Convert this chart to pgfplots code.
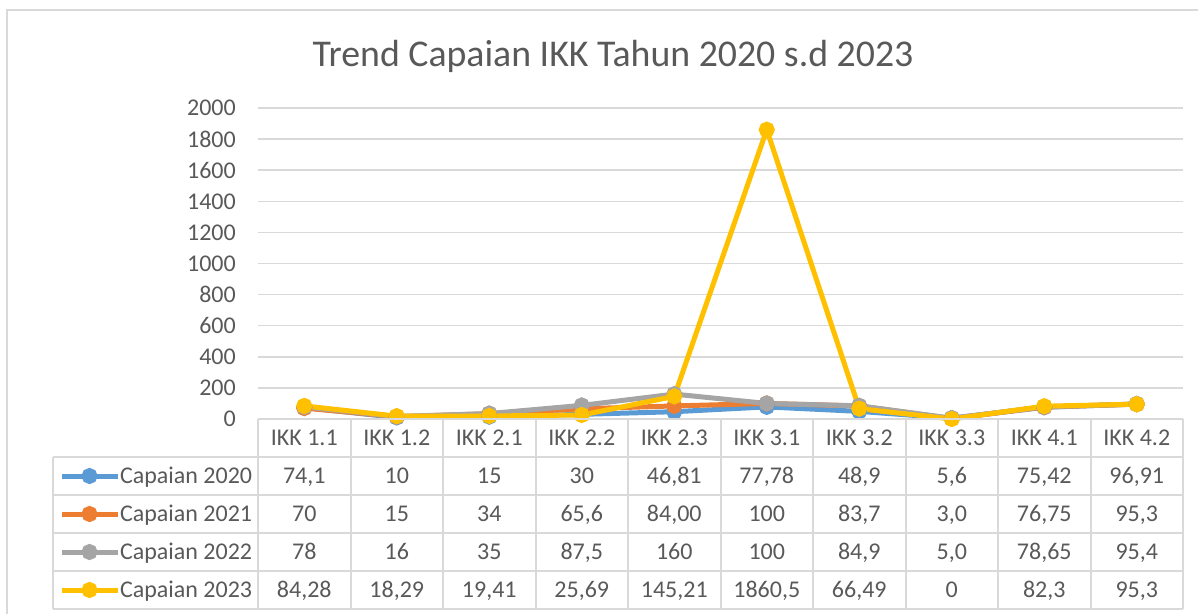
\documentclass[border=0pt]{standalone}
\usepackage{fontspec}
\setmainfont{Carlito}
\usepackage{pgfplots}
\pgfplotsset{compat=1.18}
\definecolor{c2020}{HTML}{5B9BD5}
\definecolor{c2021}{HTML}{ED7D31}
\definecolor{c2022}{HTML}{A5A5A5}
\definecolor{c2023}{HTML}{FFC000}
\definecolor{gridc}{HTML}{D9D9D9}
\definecolor{txt}{HTML}{595959}
\newcommand{\tf}{\fontsize{24bp}{28bp}\selectfont}
\begin{document}
\begin{tikzpicture}
\useasboundingbox (0,0) rectangle (1198bp,614bp);
\begin{scope}
\clip (0,0) rectangle (1198bp,614bp);
\draw[gridc, line width=1.5bp] (7bp,-10bp) -- (7bp,604bp) -- (1210bp,604bp);
\end{scope}
\node[anchor=base, text=txt, font=\fontsize{37.8bp}{42bp}\selectfont] at (613bp,547bp) {Trend Capaian IKK Tahun 2020 s.d 2023};
\begin{axis}[
  at={(258bp,195bp)}, anchor=south west,
  width=925bp, height=311bp, scale only axis,
  xmin=-0.5, xmax=9.5, ymin=0, ymax=2000,
  ytick={0,200,...,2000},
  xtick={0,...,9},
  xticklabels={IKK 1.1,IKK 1.2,IKK 2.1,IKK 2.2,IKK 2.3,IKK 3.1,IKK 3.2,IKK 3.3,IKK 4.1,IKK 4.2},
  axis line style={draw=none},
  major tick length=0pt,
  ymajorgrids, grid style={gridc, line width=1.5bp},
  /pgf/number format/assume math mode=true,
  /pgf/number format/1000 sep={},
  yticklabel style={font=\tf, text=txt, anchor=east, inner sep=0pt, xshift=-22bp},
  xticklabel style={font=\tf, text=txt, anchor=base, inner sep=0pt, yshift=-27bp},
  clip=false,
  legend cell align=left,
  legend image code/.code={\draw[mark repeat=2,mark phase=2,#1] plot coordinates {(0bp,0bp) (28bp,0bp) (56bp,0bp)};},
  legend style={at={(axis description cs:-0.2151,-0.1222)}, anchor=north west,
    draw=none, fill=none, inner sep=0pt, outer sep=0pt, row sep=0pt, column sep=0bp,
    font=\tf, text=txt,
    nodes={inner sep=0pt, outer sep=0pt, text height=26.5bp, text depth=11.5bp}},
  every axis plot/.append style={line width=5bp, mark=*, mark size=5.5bp, mark options={solid}},
]
\addplot[color=c2020] coordinates {(0,74.1) (1,10) (2,15) (3,30) (4,46.81) (5,77.78) (6,48.9) (7,5.6) (8,75.42) (9,96.91)};
\addlegendentry{Capaian 2020}
\addplot[color=c2021] coordinates {(0,70) (1,15) (2,34) (3,65.6) (4,84.00) (5,100) (6,83.7) (7,3.0) (8,76.75) (9,95.3)};
\addlegendentry{Capaian 2021}
\addplot[color=c2022] coordinates {(0,78) (1,16) (2,35) (3,87.5) (4,160) (5,100) (6,84.9) (7,5.0) (8,78.65) (9,95.4)};
\addlegendentry{Capaian 2022}
\addplot[color=c2023] coordinates {(0,84.28) (1,18.29) (2,19.41) (3,25.69) (4,145.21) (5,1860.5) (6,66.49) (7,0) (8,82.3) (9,95.3)};
\addlegendentry{Capaian 2023}
\end{axis}
\begin{scope}[x=1bp, y=-1bp, shift={(0bp,614bp)}]
  \draw[gridc, line width=2bp] (258,419) -- (1183,419);
  \foreach \yy in {457,495,533,571,609} \draw[gridc, line width=2bp] (53,\yy) -- (1183,\yy);
  \draw[gridc, line width=2bp] (53,457) -- (53,609);
  \foreach \k in {0,...,10} \draw[gridc, line width=2bp] ({258+92.5*\k},419) -- ({258+92.5*\k},609);
  \foreach \v [count=\i from 0] in {{74,1},{10},{15},{30},{46,81},{77,78},{48,9},{5,6},{75,42},{96,91}}
    \node[anchor=base, text=txt, font=\tf, inner sep=0pt] at ({258+92.5*(\i+0.5)},484) {\v};
  \foreach \v [count=\i from 0] in {{70},{15},{34},{65,6},{84,00},{100},{83,7},{3,0},{76,75},{95,3}}
    \node[anchor=base, text=txt, font=\tf, inner sep=0pt] at ({258+92.5*(\i+0.5)},522) {\v};
  \foreach \v [count=\i from 0] in {{78},{16},{35},{87,5},{160},{100},{84,9},{5,0},{78,65},{95,4}}
    \node[anchor=base, text=txt, font=\tf, inner sep=0pt] at ({258+92.5*(\i+0.5)},560) {\v};
  \foreach \v [count=\i from 0] in {{84,28},{18,29},{19,41},{25,69},{145,21},{1860,5},{66,49},{0},{82,3},{95,3}}
    \node[anchor=base, text=txt, font=\tf, inner sep=0pt] at ({258+92.5*(\i+0.5)},598) {\v};
\end{scope}
\end{tikzpicture}
\end{document}
